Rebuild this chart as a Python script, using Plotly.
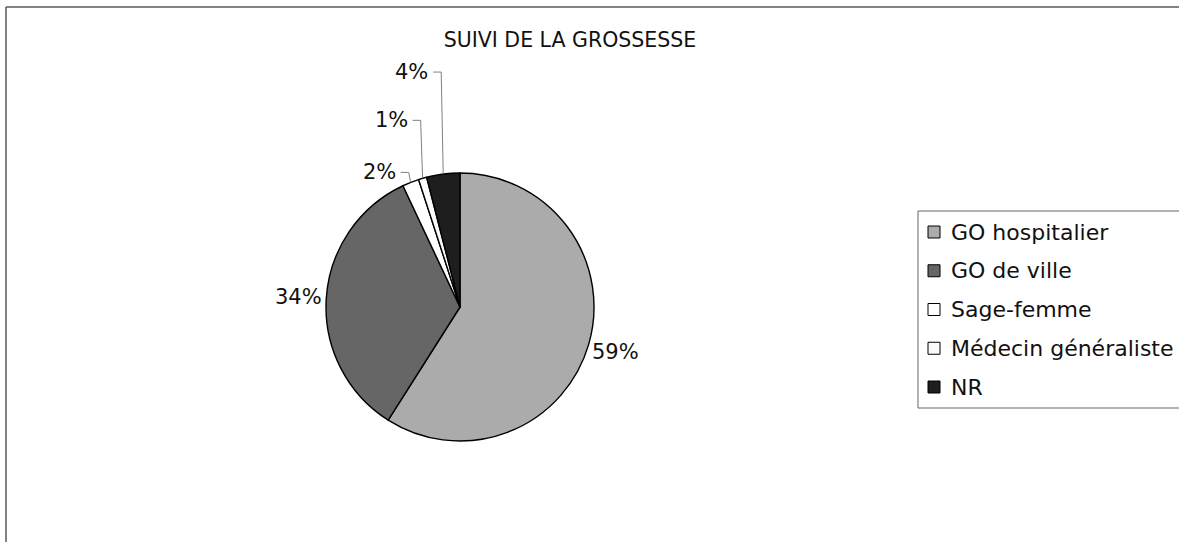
import plotly.graph_objects as go
import math

# ---- data ----
title_text = "SUIVI DE LA GROSSESSE"
categories = ["GO hospitalier", "GO de ville", "Sage-femme", "Médecin généraliste", "NR"]
values = [59, 34, 2, 1, 4]
colors = ["#ababab", "#666666", "#ffffff", "#fafafa", "#1e1e1e"]

# ---- layout config (pixels) ----
W, H = 1179, 542
CX, CY, R = 460, 307, 134
LABEL_R = R + 28
LEADER_RISE = [None, None, 10, 58, 102]   # None -> label placed radially, no leader
FONT = "DejaVu Sans, Verdana, sans-serif"
LABEL_SIZE = 21


def px(x):
    return x / W


def py(y):
    return 1 - y / H


fig = go.Figure()
fig.add_trace(go.Pie(
    labels=categories,
    values=values,
    sort=False,
    direction="clockwise",
    rotation=0,
    textinfo="none",
    hoverinfo="label+percent",
    marker=dict(colors=colors, line=dict(color="#000000", width=1.4)),
    domain=dict(x=[px(CX - R), px(CX + R)], y=[py(CY + R), py(CY - R)]),
    showlegend=False,
))

annotations = []
shapes = []

# data labels computed from slice angles
total = sum(values)
cum = 0.0
for v, rise in zip(values, LEADER_RISE):
    theta = math.radians((cum + v / 2) / total * 360)
    cum += v
    pct = f"{round(v / total * 100)}%"
    if rise is None:
        lx = CX + LABEL_R * math.sin(theta)
        ly = CY - LABEL_R * math.cos(theta)
        annotations.append(dict(x=px(lx), y=py(ly), xref="paper", yref="paper",
                                text=pct, showarrow=False, xanchor="center", yanchor="middle",
                                font=dict(family=FONT, size=LABEL_SIZE, color="#111")))
    else:
        ax = CX + R * math.sin(theta)
        ay = CY - R * math.cos(theta)
        ly = ay - rise
        text_end = ax - 13
        path = (f"M {px(text_end + 3)},{py(ly)} L {px(ax - 2)},{py(ly)} "
                f"L {px(ax)},{py(ay)}")
        shapes.append(dict(type="path", xref="paper", yref="paper", path=path,
                           line=dict(color="#808080", width=1)))
        annotations.append(dict(x=px(text_end), y=py(ly), xref="paper", yref="paper",
                                text=pct, showarrow=False, xanchor="right", yanchor="middle",
                                font=dict(family=FONT, size=LABEL_SIZE, color="#111")))

# outer chart frame (left and top edges visible)
shapes.append(dict(type="line", xref="paper", yref="paper",
                   x0=px(6), x1=px(6), y0=0, y1=py(7),
                   line=dict(color="#5a5a5a", width=1.5)))
shapes.append(dict(type="line", xref="paper", yref="paper",
                   x0=px(6), x1=1, y0=py(7), y1=py(7),
                   line=dict(color="#5a5a5a", width=1.5)))

# manual legend
LEG_X0, LEG_Y0, LEG_Y1 = 918, 211, 408
LEG_TOP_ITEM, LEG_STEP, SQ = 232, 38.75, 12
for yb in (LEG_Y0, LEG_Y1):
    shapes.append(dict(type="line", xref="paper", yref="paper",
                       x0=px(LEG_X0), x1=1, y0=py(yb), y1=py(yb),
                       line=dict(color="#666666", width=1)))
shapes.append(dict(type="line", xref="paper", yref="paper",
                   x0=px(LEG_X0), x1=px(LEG_X0), y0=py(LEG_Y1), y1=py(LEG_Y0),
                   line=dict(color="#666666", width=1)))
for i, (cat, col) in enumerate(zip(categories, colors)):
    yc = LEG_TOP_ITEM + i * LEG_STEP
    shapes.append(dict(type="rect", xref="paper", yref="paper",
                       x0=px(LEG_X0 + 10), x1=px(LEG_X0 + 10 + SQ),
                       y0=py(yc + SQ / 2), y1=py(yc - SQ / 2),
                       line=dict(color="#000", width=1), fillcolor=col))
    annotations.append(dict(x=px(LEG_X0 + 31), y=py(yc), xref="paper", yref="paper",
                            text=cat, showarrow=False, xanchor="left", yanchor="middle",
                            font=dict(family=FONT, size=22, color="#111")))

fig.update_layout(
    width=W, height=H,
    margin=dict(l=0, r=0, t=0, b=0),
    paper_bgcolor="white", plot_bgcolor="white",
    title=dict(text=title_text, x=px(570), xanchor="center", xref="paper",
               y=py(40), yanchor="middle", yref="paper",
               font=dict(family=FONT, size=20.5, color="#111")),
    annotations=annotations,
    shapes=shapes,
)

fig.write_html(
    "out.html",
    config={"displayModeBar": False},
    post_script=("document.body.style.margin='0';"
                 "document.body.style.overflow='hidden';"
                 "document.documentElement.style.overflow='hidden';"),
)
